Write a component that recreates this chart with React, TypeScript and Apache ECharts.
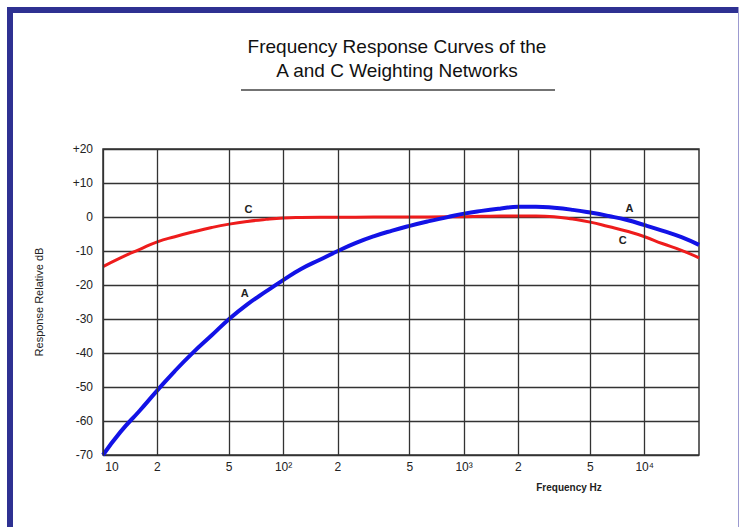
import React, { useEffect, useRef } from 'react';
import * as echarts from 'echarts';

const freqA = [10, 12.5, 16, 20, 25, 31.5, 40, 50, 63, 80, 100, 125, 160, 200, 250, 315, 400, 500, 630, 800, 1000, 1250, 1600, 2000, 2500, 3150, 4000, 5000, 6300, 8000, 10000, 12500, 16000, 20000];
// A-weighting curve (dB)
const dbA = [-70, -63.2, -56.9, -51, -45.3, -39.9, -34.8, -30, -25.7, -21.9, -18.5, -15.3, -12.5, -10, -7.7, -5.7, -4.0, -2.6, -1.3, -0.1, 1.0, 1.8, 2.5, 3.0, 3.0, 2.7, 2.1, 1.3, 0.3, -0.9, -2.4, -4.0, -5.9, -8.2];

const freqC = [10, 12.5, 16, 20, 25, 31.5, 40, 50, 63, 80, 100, 125, 160, 200, 315, 500, 800, 1000, 1250, 1600, 2000, 2500, 3150, 4000, 5000, 6300, 8000, 10000, 12500, 16000, 20000];
// C-weighting curve (dB)
const dbC = [-14.6, -12, -9.5, -7.3, -5.8, -4.4, -3.1, -2.1, -1.3, -0.7, -0.3, -0.15, -0.1, -0.1, 0, 0, 0.05, 0.1, 0.2, 0.3, 0.3, 0.3, 0.1, -0.6, -1.5, -2.8, -4.2, -5.8, -7.8, -9.8, -12];

// Vertical grid lines and their tick labels
const gridFreqs = [10, 20, 50, 100, 200, 500, 1000, 2000, 5000, 10000];
const tickLabels = ['10', '2', '5', '10²', '2', '5', '10³', '2', '5', '10⁴'];

// Curve annotations
const annotA = [
  { f: 61, v: -22.4 },
  { f: 8250, v: 2.6 },
];
const annotC = [
  { f: 64, v: 2.4 },
  { f: 7550, v: -6.8 },
];

const titleLines = ['Frequency Response Curves of the', 'A and C Weighting Networks'];

export default function App() {
  const ref = useRef<HTMLDivElement>(null);
  useEffect(() => {
    if (!ref.current) return;
    const chart = echarts.init(ref.current, undefined, { renderer: 'svg' });
    const font = 'Liberation Sans, Arial, sans-serif';
    const frameColor = '#2e3192';
    chart.setOption({
      animation: false,
      backgroundColor: '#ffffff',
      textStyle: { fontFamily: font },
      grid: {
        left: 103,
        right: 40,
        top: 149,
        bottom: 72,
        show: true,
        borderColor: '#333',
        borderWidth: 1.5,
        backgroundColor: 'transparent',
      },
      xAxis: {
        type: 'log',
        logBase: 10,
        min: 10,
        max: 20000,
        axisLine: { show: false },
        axisTick: { show: false },
        axisLabel: { show: false },
        splitLine: { show: false },
      },
      yAxis: {
        type: 'value',
        min: -70,
        max: 20,
        interval: 10,
        name: 'Response Relative dB',
        nameLocation: 'middle',
        nameRotate: 90,
        nameGap: 59,
        nameTextStyle: { fontSize: 11, color: '#222', fontFamily: font },
        axisLine: { show: false },
        axisTick: { show: false },
        axisLabel: {
          margin: 10,
          fontSize: 12,
          color: '#222',
          fontFamily: font,
          formatter: (v: number) => (v > 0 ? '+' + v : String(v)),
        },
        splitLine: { show: true, lineStyle: { color: '#333', width: 1.3 } },
      },
      series: [
        {
          name: 'grid',
          type: 'line',
          data: [],
          z: 1,
          silent: true,
          markLine: {
            silent: true,
            symbol: 'none',
            animation: false,
            lineStyle: { color: '#333', width: 1.3, type: 'solid' },
            label: {
              show: true,
              position: 'start',
              distance: 6,
              color: '#222',
              fontSize: 12,
              fontFamily: font,
            },
            data: gridFreqs.map((f, i) => ({
              xAxis: f,
              label: { formatter: tickLabels[i], offset: i === 0 ? [9, 0] : [0, 0] },
            })),
          },
        },
        {
          name: 'C',
          type: 'line',
          smooth: true,
          symbol: 'none',
          z: 3,
          lineStyle: { color: '#ee1c1c', width: 3 },
          data: freqC.map((f, i) => [f, dbC[i]]),
          markPoint: {
            symbol: 'circle',
            symbolSize: 0,
            label: { show: true, color: '#222', fontSize: 11, fontWeight: 'bold', fontFamily: font, formatter: 'C' },
            data: annotC.map((a) => ({ coord: [a.f, a.v] })),
          },
        },
        {
          name: 'A',
          type: 'line',
          smooth: true,
          symbol: 'none',
          z: 4,
          lineStyle: { color: '#1212e6', width: 4 },
          data: freqA.map((f, i) => [f, dbA[i]]),
          markPoint: {
            symbol: 'circle',
            symbolSize: 0,
            label: { show: true, color: '#222', fontSize: 11, fontWeight: 'bold', fontFamily: font, formatter: 'A' },
            data: annotA.map((a) => ({ coord: [a.f, a.v] })),
          },
        },
      ],
      graphic: [
        { type: 'rect', left: 7, top: 7, shape: { width: 6, height: 530 }, style: { fill: frameColor } },
        { type: 'rect', left: 7, top: 7, shape: { width: 740, height: 6 }, style: { fill: frameColor } },
        { type: 'line', shape: { x1: 738.5, y1: 7, x2: 738.5, y2: 527 }, style: { stroke: '#9c9ad0', lineWidth: 1 } },
        {
          type: 'text',
          x: 397,
          y: 46,
          style: { text: titleLines[0], fill: '#111', font: `19px ${font}`, textAlign: 'center', textVerticalAlign: 'middle' },
        },
        {
          type: 'text',
          x: 397,
          y: 70,
          style: { text: titleLines[1], fill: '#111', font: `19px ${font}`, textAlign: 'center', textVerticalAlign: 'middle' },
        },
        { type: 'line', shape: { x1: 241, y1: 90, x2: 555, y2: 90 }, style: { stroke: '#444', lineWidth: 1.6 } },
        {
          type: 'text',
          x: 569,
          y: 487,
          style: { text: 'Frequency Hz', fill: '#222', font: `bold 10px ${font}`, textAlign: 'center', textVerticalAlign: 'middle' },
        },
      ],
    });
    return () => chart.dispose();
  }, []);
  return <div ref={ref} style={{ position: 'absolute', left: 0, top: 0, width: 739, height: 527 }} />;
}
